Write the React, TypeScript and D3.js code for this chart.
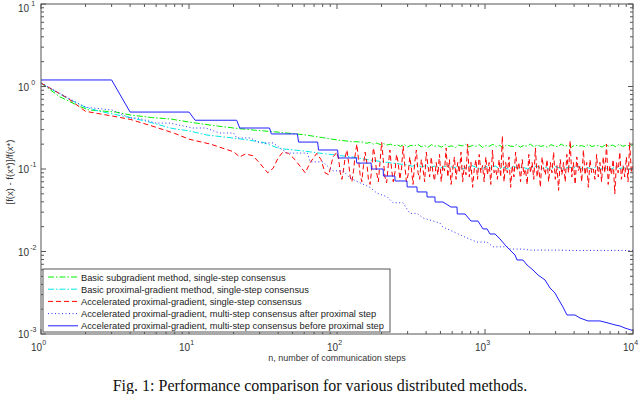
import React from "react";
import * as d3 from "d3";

const W = 640;
const H = 394;
// plot box
const X0 = 41, X1 = 633, Y0 = 4, Y1 = 334;

const xExps = [0, 1, 2, 3, 4];
const yExps = [1, 0, -1, -2, -3];

const legendLabels = [
  "Basic subgradient method, single-step consensus",
  "Basic proximal-gradient method, single-step consensus",
  "Accelerated proximal-gradient, single-step consensus",
  "Accelerated proximal-gradient, multi-step consensus after proximal step",
  "Accelerated proximal-gradient, multi-step consensus before proximal step",
];

// [n, value] pairs
const subgradHead: [number, number][] = [
  [1, 1.1], [1.34, 0.75], [1.8, 0.58], [2.1, 0.52], [3.2, 0.49], [4, 0.452],
  [5.6, 0.42], [7.5, 0.404], [10, 0.371], [14, 0.34], [20, 0.314], [28, 0.295],
  [40, 0.28], [60, 0.26], [80, 0.24], [100, 0.225], [125, 0.215],
];
// noisy tail, n from 150 to 10000
const subgradTail = [
  0.212, 0.205, 0.21, 0.2, 0.206, 0.198, 0.203, 0.195, 0.2, 0.192,
  0.196, 0.188, 0.199, 0.185, 0.194, 0.19, 0.2, 0.186, 0.193, 0.183, 0.197, 0.189, 0.192, 0.184, 0.198, 0.187, 0.191, 0.182, 0.195, 0.19,
  0.2, 0.185, 0.193, 0.188, 0.197, 0.183, 0.192, 0.189, 0.199, 0.186, 0.194, 0.181, 0.196, 0.19, 0.187, 0.198, 0.184, 0.193, 0.189, 0.2,
  0.185, 0.195, 0.188, 0.192, 0.183, 0.197, 0.19, 0.186, 0.201, 0.188, 0.194, 0.184, 0.196, 0.189, 0.192, 0.186, 0.199, 0.187, 0.193, 0.19,
  0.185, 0.197, 0.189, 0.195, 0.186, 0.2, 0.188, 0.194, 0.191, 0.196,
];

const proxHead: [number, number][] = [
  [1, 1.1], [1.5, 0.72], [2, 0.56], [2.5, 0.5], [3.26, 0.452], [4, 0.42],
  [5.2, 0.377], [7.7, 0.31], [10, 0.29], [13.2, 0.258], [18.9, 0.24], [25, 0.225],
  [31.6, 0.21], [41, 0.177], [60, 0.165], [80, 0.154], [126, 0.14], [160, 0.13],
  [220, 0.12],
];
// n from 300 to 10000
const proxTail = [
  0.112, 0.108, 0.113, 0.106, 0.11, 0.104, 0.109, 0.102, 0.107, 0.111,
  0.103, 0.108, 0.1, 0.106, 0.11, 0.104, 0.098, 0.107, 0.103, 0.109,
  0.101, 0.105, 0.099, 0.108, 0.102, 0.106, 0.1, 0.104, 0.109, 0.101,
  0.105, 0.098, 0.107, 0.103, 0.1, 0.106, 0.102, 0.108, 0.099, 0.104,
  0.101, 0.106, 0.1, 0.103, 0.098, 0.105, 0.101, 0.104, 0.099, 0.102,
];

const accHead: [number, number][] = [
  [1, 1.1], [1.5, 0.73], [2, 0.5], [3, 0.44], [4, 0.4], [6, 0.32], [8, 0.27],
  [10, 0.23], [14, 0.2], [18, 0.172], [20, 0.162], [22, 0.14], [24, 0.152],
  [27, 0.145], [30, 0.118], [34, 0.09], [37, 0.102], [40, 0.136], [43, 0.16],
  [47, 0.155], [52, 0.13], [57, 0.105], [61, 0.09], [66, 0.12], [73, 0.155],
  [78, 0.13], [83, 0.09], [88, 0.085], [94, 0.14],
];
// n from 100 to 10000
const accTail = [
  0.16, 0.13, 0.09, 0.075, 0.1, 0.14, 0.17, 0.12, 0.08, 0.07, 0.095, 0.15, 0.2, 0.13, 0.085, 0.07, 0.11, 0.16, 0.12, 0.075,
  0.065, 0.1, 0.18, 0.14, 0.09, 0.07, 0.12, 0.21, 0.13, 0.08, 0.068, 0.11, 0.17, 0.1, 0.07, 0.09, 0.15, 0.12, 0.075, 0.1,
  0.19, 0.11, 0.07, 0.085, 0.14, 0.1, 0.065, 0.12, 0.17, 0.09, 0.075, 0.13, 0.1, 0.07, 0.16, 0.11, 0.08, 0.14, 0.09, 0.072,
  0.12, 0.085, 0.15, 0.07, 0.11, 0.095, 0.18, 0.08, 0.13, 0.065, 0.1, 0.14, 0.075, 0.12, 0.09, 0.16, 0.07, 0.11, 0.085, 0.2,
  0.08, 0.12, 0.06, 0.1, 0.13, 0.075, 0.15, 0.09, 0.11, 0.07, 0.14, 0.085, 0.12, 0.065, 0.17, 0.09, 0.1, 0.075, 0.13, 0.08,
  0.25, 0.07, 0.12, 0.09, 0.14, 0.06, 0.11, 0.08, 0.16, 0.095, 0.12, 0.07, 0.13, 0.085, 0.1, 0.065, 0.15, 0.09, 0.12, 0.075,
  0.18, 0.08, 0.11, 0.06, 0.14, 0.1, 0.085, 0.13, 0.07, 0.12, 0.09, 0.16, 0.075, 0.11, 0.055, 0.13, 0.085, 0.12, 0.07, 0.15,
  0.09, 0.22, 0.08, 0.12, 0.065, 0.14, 0.095, 0.11, 0.07, 0.17, 0.085, 0.12, 0.06, 0.13, 0.09, 0.1, 0.075, 0.15, 0.08, 0.12,
  0.07, 0.14, 0.09, 0.2, 0.065, 0.11, 0.085, 0.13, 0.05, 0.12, 0.09, 0.16, 0.075, 0.11, 0.08, 0.14, 0.07, 0.21, 0.09, 0.12,
];

const multiAfter: [number, number][] = [
  [1, 1.1], [2, 0.56], [3, 0.52], [4, 0.415], [4.5, 0.415], [6, 0.36], [7.4, 0.36],
  [10.6, 0.314], [13, 0.314], [16, 0.273], [20, 0.273], [21, 0.238], [26, 0.238],
  [30, 0.207], [37, 0.207], [46, 0.156], [63, 0.156], [66, 0.122], [80, 0.122],
  [94, 0.095], [110, 0.095], [122, 0.078], [143, 0.068], [167, 0.06], [186, 0.051],
  [218, 0.046], [239, 0.039], [279, 0.039], [311, 0.029], [347, 0.029], [381, 0.0255],
  [496, 0.0221], [520, 0.0198], [755, 0.0146], [883, 0.013], [1032, 0.013],
  [1132, 0.0114], [1409, 0.0114], [1475, 0.0107], [1806, 0.0107], [2014, 0.0104],
  [3113, 0.0104], [3752, 0.0103], [5803, 0.0103], [7920, 0.0103], [10000, 0.0103],
];

const multiBefore: [number, number][] = [
  [1, 1.2], [3, 1.2], [4, 0.49], [10, 0.49], [11, 0.39], [21, 0.39], [22, 0.314],
  [35, 0.314], [36, 0.266], [54, 0.266], [55, 0.212], [74, 0.212], [75, 0.17],
  [101, 0.17], [102, 0.136], [135, 0.136], [136, 0.118], [170, 0.118], [171, 0.1],
  [205, 0.1], [206, 0.0822], [246, 0.0822], [247, 0.0716], [297, 0.0716],
  [298, 0.0606], [347, 0.0606], [348, 0.0527], [405, 0.0527], [406, 0.0458],
  [459, 0.0458], [460, 0.0398], [520, 0.0398], [589, 0.0346], [647, 0.0346],
  [650, 0.0285], [733, 0.0285], [804, 0.0234], [897, 0.0234], [969, 0.0188],
  [1032, 0.0188], [1081, 0.0163], [1169, 0.0163], [1263, 0.0142], [1366, 0.012],
  [1475, 0.0104], [1595, 0.00908], [1645, 0.00789], [1806, 0.00789], [1923, 0.00686],
  [2110, 0.00597], [2280, 0.00519], [2543, 0.00452], [2750, 0.00361], [2972, 0.00314],
  [3100, 0.00273], [3365, 0.00212], [3580, 0.0017], [4056, 0.0017], [4385, 0.00156],
  [4966, 0.00144], [5985, 0.00144], [6777, 0.00136], [7556, 0.00129], [8170, 0.00125],
  [8833, 0.00118], [10000, 0.0011],
];

// place tail values on a log-spaced n grid
const spread = (vals: number[], from: number, to: number): [number, number][] =>
  vals.map((v, i) => [from * Math.pow(to / from, i / (vals.length - 1)), v]);

const series = [
  { data: subgradHead.concat(spread(subgradTail, 150, 10000)), color: "#00f000", dash: "6,2,1.5,2" },
  { data: proxHead.concat(spread(proxTail, 300, 10000)), color: "#00e8e8", dash: "6,2,1.5,2" },
  { data: accHead.concat(spread(accTail, 100, 10000)), color: "#ff0000", dash: "5,3" },
  { data: multiAfter, color: "#3030ff", dash: "1,2.5" },
  { data: multiBefore, color: "#2020ff", dash: "" },
];

const x = d3.scaleLog().domain([1, 1e4]).range([X0, X1]);
const y = d3.scaleLog().domain([1e-3, 1e1]).range([Y1, Y0]);
const line = d3.line<[number, number]>().x((d) => x(d[0])).y((d) => y(d[1]));

const axisColor = "#555";
const font = "'Liberation Sans', Arial, sans-serif";

export default function App() {
  const xMinor: number[] = [];
  for (let e = 0; e < 4; e++) for (let k = 2; k <= 9; k++) xMinor.push(k * Math.pow(10, e));
  const yMinor: number[] = [];
  for (let e = -3; e < 1; e++) for (let k = 2; k <= 9; k++) yMinor.push(k * Math.pow(10, e));

  return (
    <svg width={W} height={H} style={{ position: "absolute", left: 0, top: 0, background: "#fff" }}>
      <defs>
        <clipPath id="plot">
          <rect x={X0} y={Y0} width={X1 - X0} height={Y1 - Y0} />
        </clipPath>
      </defs>
      <rect x={0} y={0} width={W} height={H} fill="#fff" />

      <g clipPath="url(#plot)">
        {series.map((s, i) => (
          <path key={i} d={line(s.data) || ""} fill="none" stroke={s.color}
            strokeWidth={1} strokeDasharray={s.dash || undefined} />
        ))}
      </g>

      {/* frame and ticks */}
      <rect x={X0} y={Y0} width={X1 - X0} height={Y1 - Y0} fill="none" stroke={axisColor} strokeWidth={1} />
      <g stroke={axisColor} strokeWidth={1}>
        {xExps.map((e) => {
          const px = x(Math.pow(10, e));
          return (
            <g key={"xm" + e}>
              <line x1={px} x2={px} y1={Y1} y2={Y1 - 5} />
              <line x1={px} x2={px} y1={Y0} y2={Y0 + 5} />
            </g>
          );
        })}
        {xMinor.map((v) => {
          const px = x(v);
          return (
            <g key={"xn" + v}>
              <line x1={px} x2={px} y1={Y1} y2={Y1 - 3} />
              <line x1={px} x2={px} y1={Y0} y2={Y0 + 3} />
            </g>
          );
        })}
        {yExps.map((e) => {
          const py = y(Math.pow(10, e));
          return (
            <g key={"ym" + e}>
              <line x1={X0} x2={X0 + 5} y1={py} y2={py} />
              <line x1={X1} x2={X1 - 5} y1={py} y2={py} />
            </g>
          );
        })}
        {yMinor.map((v) => {
          const py = y(v);
          return (
            <g key={"yn" + v}>
              <line x1={X0} x2={X0 + 3} y1={py} y2={py} />
              <line x1={X1} x2={X1 - 3} y1={py} y2={py} />
            </g>
          );
        })}
      </g>

      {/* tick labels */}
      <g fontFamily={font} fill="#333">
        {xExps.map((e) => (
          <text key={"xl" + e} x={x(Math.pow(10, e)) - 10} y={351} fontSize={10}>
            10<tspan dy={-6} fontSize={7}>{e}</tspan>
          </text>
        ))}
        {yExps.map((e) => (
          <text key={"yl" + e} x={18} y={Math.max(y(Math.pow(10, e)) + 4, 12)} fontSize={10}>
            10<tspan dy={-6} fontSize={7} dx={e < 0 ? 1 : 2}>{e < 0 ? "-" + -e : e}</tspan>
          </text>
        ))}
        <text x={(X0 + X1) / 2} y={361} fontSize={9} textAnchor="middle">
          n, number of communication steps
        </text>
        <text transform={`translate(13,172) rotate(-90)`} fontSize={9.5} textAnchor="middle">
          [f(x) - f(x*)]/f(x*)
        </text>
      </g>

      {/* legend */}
      <g fontFamily={font}>
        <rect x={43} y={269} width={347} height={63} fill="#fff" stroke={axisColor} strokeWidth={1} />
        {legendLabels.map((lab, i) => {
          const ry = 277 + i * 12.2;
          const s = series[i];
          return (
            <g key={"lg" + i}>
              <line x1={48} x2={78} y1={ry} y2={ry} stroke={s.color} strokeWidth={1}
                strokeDasharray={s.dash || undefined} />
              <text x={81} y={ry + 3.5} fontSize={9.3} fill="#222">{lab}</text>
            </g>
          );
        })}
      </g>

      {/* caption */}
      <text x={320} y={391} fontFamily="'Liberation Serif', 'Times New Roman', serif" fontSize={16}
        textAnchor="middle" fill="#111">
        Fig. 1: Performance comparison for various distributed methods.
      </text>
    </svg>
  );
}
